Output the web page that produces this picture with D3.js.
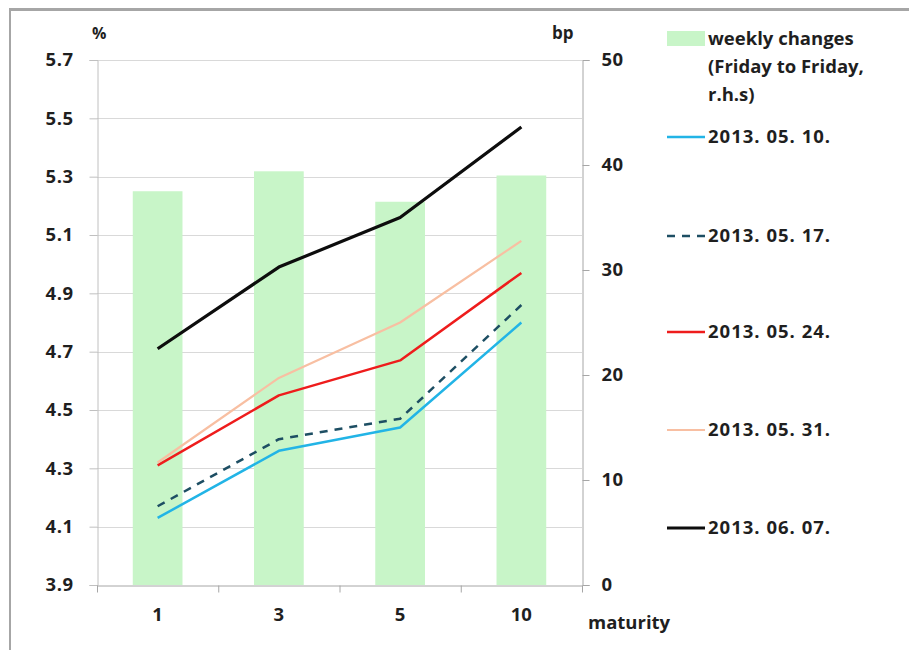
<!DOCTYPE html>
<html>
<head>
<meta charset="utf-8">
<script src="https://cdn.jsdelivr.net/npm/d3@7"></script>
<style>
  html, body { margin: 0; padding: 0; background: #fff; }
  svg { display: block; }
  text { font-family: "Open Sans", "DejaVu Sans", sans-serif; font-weight: 700; fill: #1f1f1f; }
</style>
</head>
<body>
<svg id="chart" width="909" height="650"></svg>
<script>
// Maturities (years) on the horizontal axis
const maturities = ["1", "3", "5", "10"];

// Weekly changes, Friday to Friday, basis points (right-hand scale)
const weeklyChanges = [37.5, 39.4, 36.5, 39.0];

// Yield curves, percent (left-hand scale)
const curveDates = ["2013. 05. 10.", "2013. 05. 17.", "2013. 05. 24.", "2013. 05. 31.", "2013. 06. 07."];
const yields0510 = [4.13, 4.36, 4.44, 4.80];
const yields0517 = [4.17, 4.40, 4.47, 4.86];
const yields0524 = [4.31, 4.55, 4.67, 4.97];
const yields0531 = [4.32, 4.61, 4.80, 5.08];
const yields0607 = [4.71, 4.99, 5.16, 5.47];

// Tick values
const leftTicks = [3.9, 4.1, 4.3, 4.5, 4.7, 4.9, 5.1, 5.3, 5.5, 5.7];
const rightTicks = [0, 10, 20, 30, 40, 50];

const series = [
  { name: curveDates[0], values: yields0510, color: "#22b4e6", width: 2.5, dash: null },
  { name: curveDates[1], values: yields0517, color: "#1d4e63", width: 2.5, dash: "8,7" },
  { name: curveDates[2], values: yields0524, color: "#ee1c1c", width: 2.5, dash: null },
  { name: curveDates[3], values: yields0531, color: "#f8bfa2", width: 2.2, dash: null },
  { name: curveDates[4], values: yields0607, color: "#0d0d0d", width: 3.2, dash: null }
];

const svg = d3.select("#chart");
const plot = { left: 97, right: 582, top: 60, bottom: 585 };

// Outer frame
svg.append("line").attr("x1", 9).attr("x2", 909).attr("y1", 9.5).attr("y2", 9.5)
  .attr("stroke", "#a6a6a6").attr("stroke-width", 3);
svg.append("line").attr("x1", 10).attr("x2", 10).attr("y1", 8).attr("y2", 650)
  .attr("stroke", "#a6a6a6").attr("stroke-width", 2);

const x = d3.scaleBand().domain(maturities).range([plot.left, plot.right]).paddingInner(0).paddingOuter(0);
const xBar = d3.scaleBand().domain(maturities).range([plot.left, plot.right]).paddingInner(0.59).paddingOuter(0.295);
const yL = d3.scaleLinear().domain([3.9, 5.7]).range([plot.bottom, plot.top]);
const yR = d3.scaleLinear().domain([0, 50]).range([plot.bottom, plot.top]);

// Horizontal gridlines
svg.append("g").selectAll("line").data(leftTicks.slice(1)).join("line")
  .attr("x1", plot.left).attr("x2", plot.right)
  .attr("y1", d => Math.round(yL(d)) + 0.5).attr("y2", d => Math.round(yL(d)) + 0.5)
  .attr("stroke", "#d9d9d9").attr("stroke-width", 1);

// Bars: weekly changes on the right-hand scale
svg.append("g").selectAll("rect").data(maturities).join("rect")
  .attr("x", d => xBar(d))
  .attr("width", xBar.bandwidth())
  .attr("y", (d, i) => yR(weeklyChanges[i]))
  .attr("height", (d, i) => yR(0) - yR(weeklyChanges[i]))
  .attr("fill", "#c8f5c8");

const labelSize = "18.5px";

// Left axis
const leftAxis = svg.append("g").attr("transform", `translate(${plot.left + 0.5},0)`)
  .call(d3.axisLeft(yL).tickValues(leftTicks).tickFormat(d3.format(".1f")).tickSize(8).tickPadding(16));
leftAxis.select(".domain").attr("stroke", "#c0c0c0");
leftAxis.selectAll(".tick line").attr("stroke", "#c0c0c0");
leftAxis.selectAll(".tick text").style("font-size", labelSize).style("letter-spacing", "0.5px").attr("fill", "#1f1f1f");

// Right axis
const rightAxis = svg.append("g").attr("transform", `translate(${plot.right + 0.5},0)`)
  .call(d3.axisRight(yR).tickValues(rightTicks).tickSize(7).tickPadding(12));
rightAxis.select(".domain").attr("stroke", "#a6a6a6");
rightAxis.selectAll(".tick line").attr("stroke", "#a6a6a6");
rightAxis.selectAll(".tick text").style("font-size", labelSize).style("letter-spacing", "0.5px").attr("fill", "#1f1f1f");

// Category axis
const bottomAxis = svg.append("g").attr("transform", `translate(0,${plot.bottom + 0.5})`)
  .call(d3.axisBottom(x).tickSize(0).tickPadding(22));
bottomAxis.select(".domain").attr("stroke", "#a6a6a6");
bottomAxis.selectAll(".tick text").style("font-size", labelSize).attr("fill", "#1f1f1f");
const boundaries = maturities.map(d => x(d)).concat([plot.right]);
bottomAxis.append("g").selectAll("line").data(boundaries).join("line")
  .attr("x1", d => d + 0.5).attr("x2", d => d + 0.5).attr("y1", 0).attr("y2", 7)
  .attr("stroke", "#a6a6a6");

// Axis unit labels
svg.append("text").attr("x", 92).attr("y", 39).style("font-size", "16px").text("%");
svg.append("text").attr("x", 552).attr("y", 39).style("font-size", "17px").text("bp");
svg.append("text").attr("x", 588).attr("y", 629).style("font-size", labelSize).text("maturity");

// Yield curves
const line = d3.line().x((d, i) => x(maturities[i]) + x.bandwidth() / 2).y(d => yL(d));
svg.append("g").selectAll("path").data(series).join("path")
  .attr("d", d => line(d.values))
  .attr("fill", "none")
  .attr("stroke", d => d.color)
  .attr("stroke-width", d => d.width)
  .attr("stroke-dasharray", d => d.dash)
  .attr("stroke-linejoin", "round");

// Legend
const lg = svg.append("g");
lg.append("rect").attr("x", 667).attr("y", 31).attr("width", 38).attr("height", 15).attr("fill", "#c8f5c8");
["weekly changes", "(Friday to Friday,", "r.h.s)"].forEach((t, i) => {
  lg.append("text").attr("x", 708).attr("y", 45 + i * 28).style("font-size", "18.5px").text(t);
});
const legendY = [137, 236, 332, 430, 528];
series.forEach((s, i) => {
  lg.append("line").attr("x1", 667).attr("x2", 705)
    .attr("y1", legendY[i]).attr("y2", legendY[i])
    .attr("stroke", s.color).attr("stroke-width", s.width)
    .attr("stroke-dasharray", s.dash ? "8,7" : null);
  lg.append("text").attr("x", 708).attr("y", legendY[i] + 6)
    .style("font-size", "18.5px").style("letter-spacing", "1px").text(s.name);
});
</script>
</body>
</html>
